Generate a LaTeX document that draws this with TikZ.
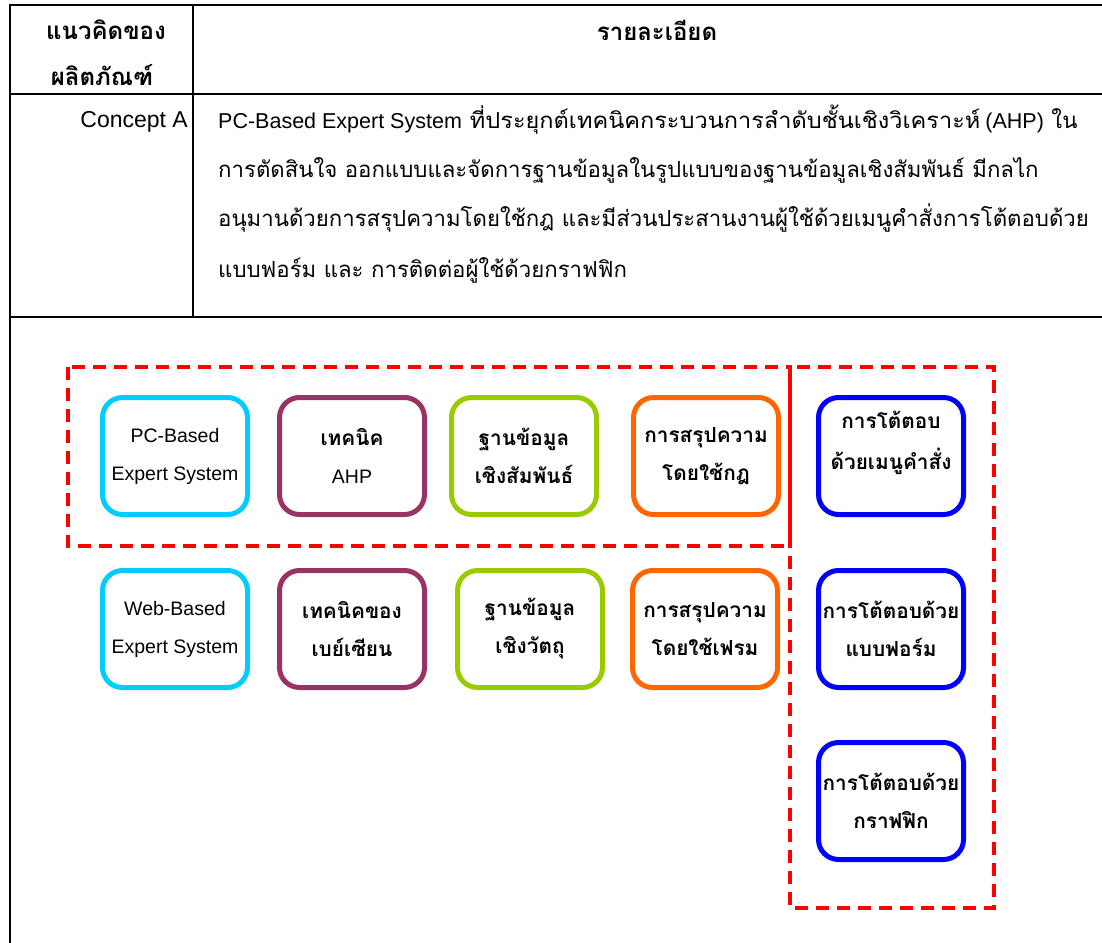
\documentclass[tikz,border=0pt]{standalone}
\usepackage{fontspec}
\usepackage{graphicx}
\setmainfont{Liberation Sans}
\newfontfamily\thai[Script=Thai]{Loma}
% Latin runs inside Thai text: body size and box size
\newcommand\lat[1]{{\rmfamily\fontsize{21.5}{25}\selectfont #1}}
\newcommand\boxlat[1]{{\rmfamily\mdseries\fontsize{19.5}{38}\selectfont #1}}
% two-line label with extra room below, so it sits higher in its box
\newcommand\hightext[3]{\raisebox{0pt}[\height][\dimexpr\depth+#1\relax]{\begin{tabular}{@{}c@{}}#2\\[3pt]#3\end{tabular}}}
\definecolor{ccyan}{RGB}{0,204,255}
\definecolor{cplum}{RGB}{153,51,102}
\definecolor{clime}{RGB}{153,204,0}
\definecolor{corange}{RGB}{255,102,0}
\definecolor{cblue}{RGB}{0,0,255}
\definecolor{cred}{RGB}{255,0,0}
\begin{document}
\begin{tikzpicture}[x=1pt,y=-1pt,
  rule/.style={line width=2pt,black},
  body/.style={anchor=base west,inner sep=0pt,font=\thai\fontsize{22.2}{25}\selectfont},
  head/.style={inner sep=0pt,font=\thai\bfseries\fontsize{24}{25}\selectfont},
  box/.style={draw=#1,line width=5pt,rounded corners=20pt,minimum width=145pt,
    minimum height=117pt,align=center,inner sep=0pt,
    font=\thai\bfseries\fontsize{20.8}{38}\selectfont},
  group/.style={draw=cred,line width=3.2pt,dash pattern=on 13pt off 8pt}]
\useasboundingbox (0,0) rectangle (1102,942);
% table frame
\coordinate (tl) at (10,5);
\coordinate (tr) at (1104,5);
\coordinate (bl) at (10,944);
\coordinate (ml) at (10,94);
\coordinate (mr) at (1104,94);
\coordinate (nl) at (10,317);
\coordinate (nr) at (1104,317);
\coordinate (ct) at (193,5);
\coordinate (cb) at (193,317);
\draw[rule] (tr) -- (tl) -- (bl);
\draw[rule] (ml) -- (mr);
\draw[rule] (nl) -- (nr);
\draw[rule] (ct) -- (cb);
% header
\node[head] (h1) at (106,30) {แนวคิดของ};
\node[head] (h2) at (102,75) {ผลิตภัณฑ์};
\node[head] (h3) at (657,30) {รายละเอียด};
% concept row
\node[anchor=base east,inner sep=0pt,font=\fontsize{23}{25}\selectfont] (ca) at (188,127) {Concept A};
\node[body] (l1) at (218,128) {\lat{PC-Based Expert System}\hspace{8pt}\scalebox{1.06}[1]{ที่ประยุกต์เทคนิคกระบวนการลำดับชั้นเชิงวิเคราะห์}\hspace{5pt}\lat{(AHP)} ใน};
\node[body] (l2) at (218,177) {การตัดสินใจ ออกแบบและจัดการฐานข้อมูลในรูปแบบของฐานข้อมูลเชิงสัมพันธ์ มีกลไก};
\node[body] (l3) at (218,226) {อนุมานด้วยการสรุปความโดยใช้กฎ และมีส่วนประสานงานผู้ใช้ด้วยเมนูคำสั่งการโต้ตอบด้วย};
\node[body] (l4) at (218,277) {แบบฟอร์ม และ การติดต่อผู้ใช้ด้วยกราฟฟิก};
% concept boxes
\node[box=ccyan] (pc) at (175,456) {\boxlat{PC-Based}\\\boxlat{Expert System}};
\node[box=cplum] (ahp) at (352,456) {เทคนิค\\\boxlat{AHP}};
\node[box=clime] (rdb) at (524,456) {ฐานข้อมูล\\เชิงสัมพันธ์};
\node[box=corange] (rule) at (706,456) {การสรุปความ\\โดยใช้กฎ};
\node[box=cblue] (menu) at (891,456) {\hightext{29pt}{การโต้ตอบ}{ด้วยเมนูคำสั่ง}};
\node[box=ccyan] (web) at (175,629) {\boxlat{Web-Based}\\\boxlat{Expert System}};
\node[box=cplum] (bay) at (352,629) {เทคนิคของ\\เบย์เซียน};
\node[box=clime] (odb) at (530,629) {ฐานข้อมูล\\เชิงวัตถุ};
\node[box=corange] (frame) at (705,629) {การสรุปความ\\โดยใช้เฟรม};
\node[box=cblue] (form) at (891,629) {การโต้ตอบด้วย\\แบบฟอร์ม};
\node[box=cblue] (gui) at (891,801) {การโต้ตอบด้วย\\กราฟฟิก};
% selected-concept frames
\coordinate (ga1) at (68,367);
\coordinate (ga2) at (790,546);
\coordinate (gb1) at (790,367);
\coordinate (gb2) at (994,908);
\draw[group] (ga1) rectangle (ga2);
\draw[group] (gb1) rectangle (gb2);
\draw[cred,line width=3.2pt] (gb1) -- (ga2);
\end{tikzpicture}
\end{document}
